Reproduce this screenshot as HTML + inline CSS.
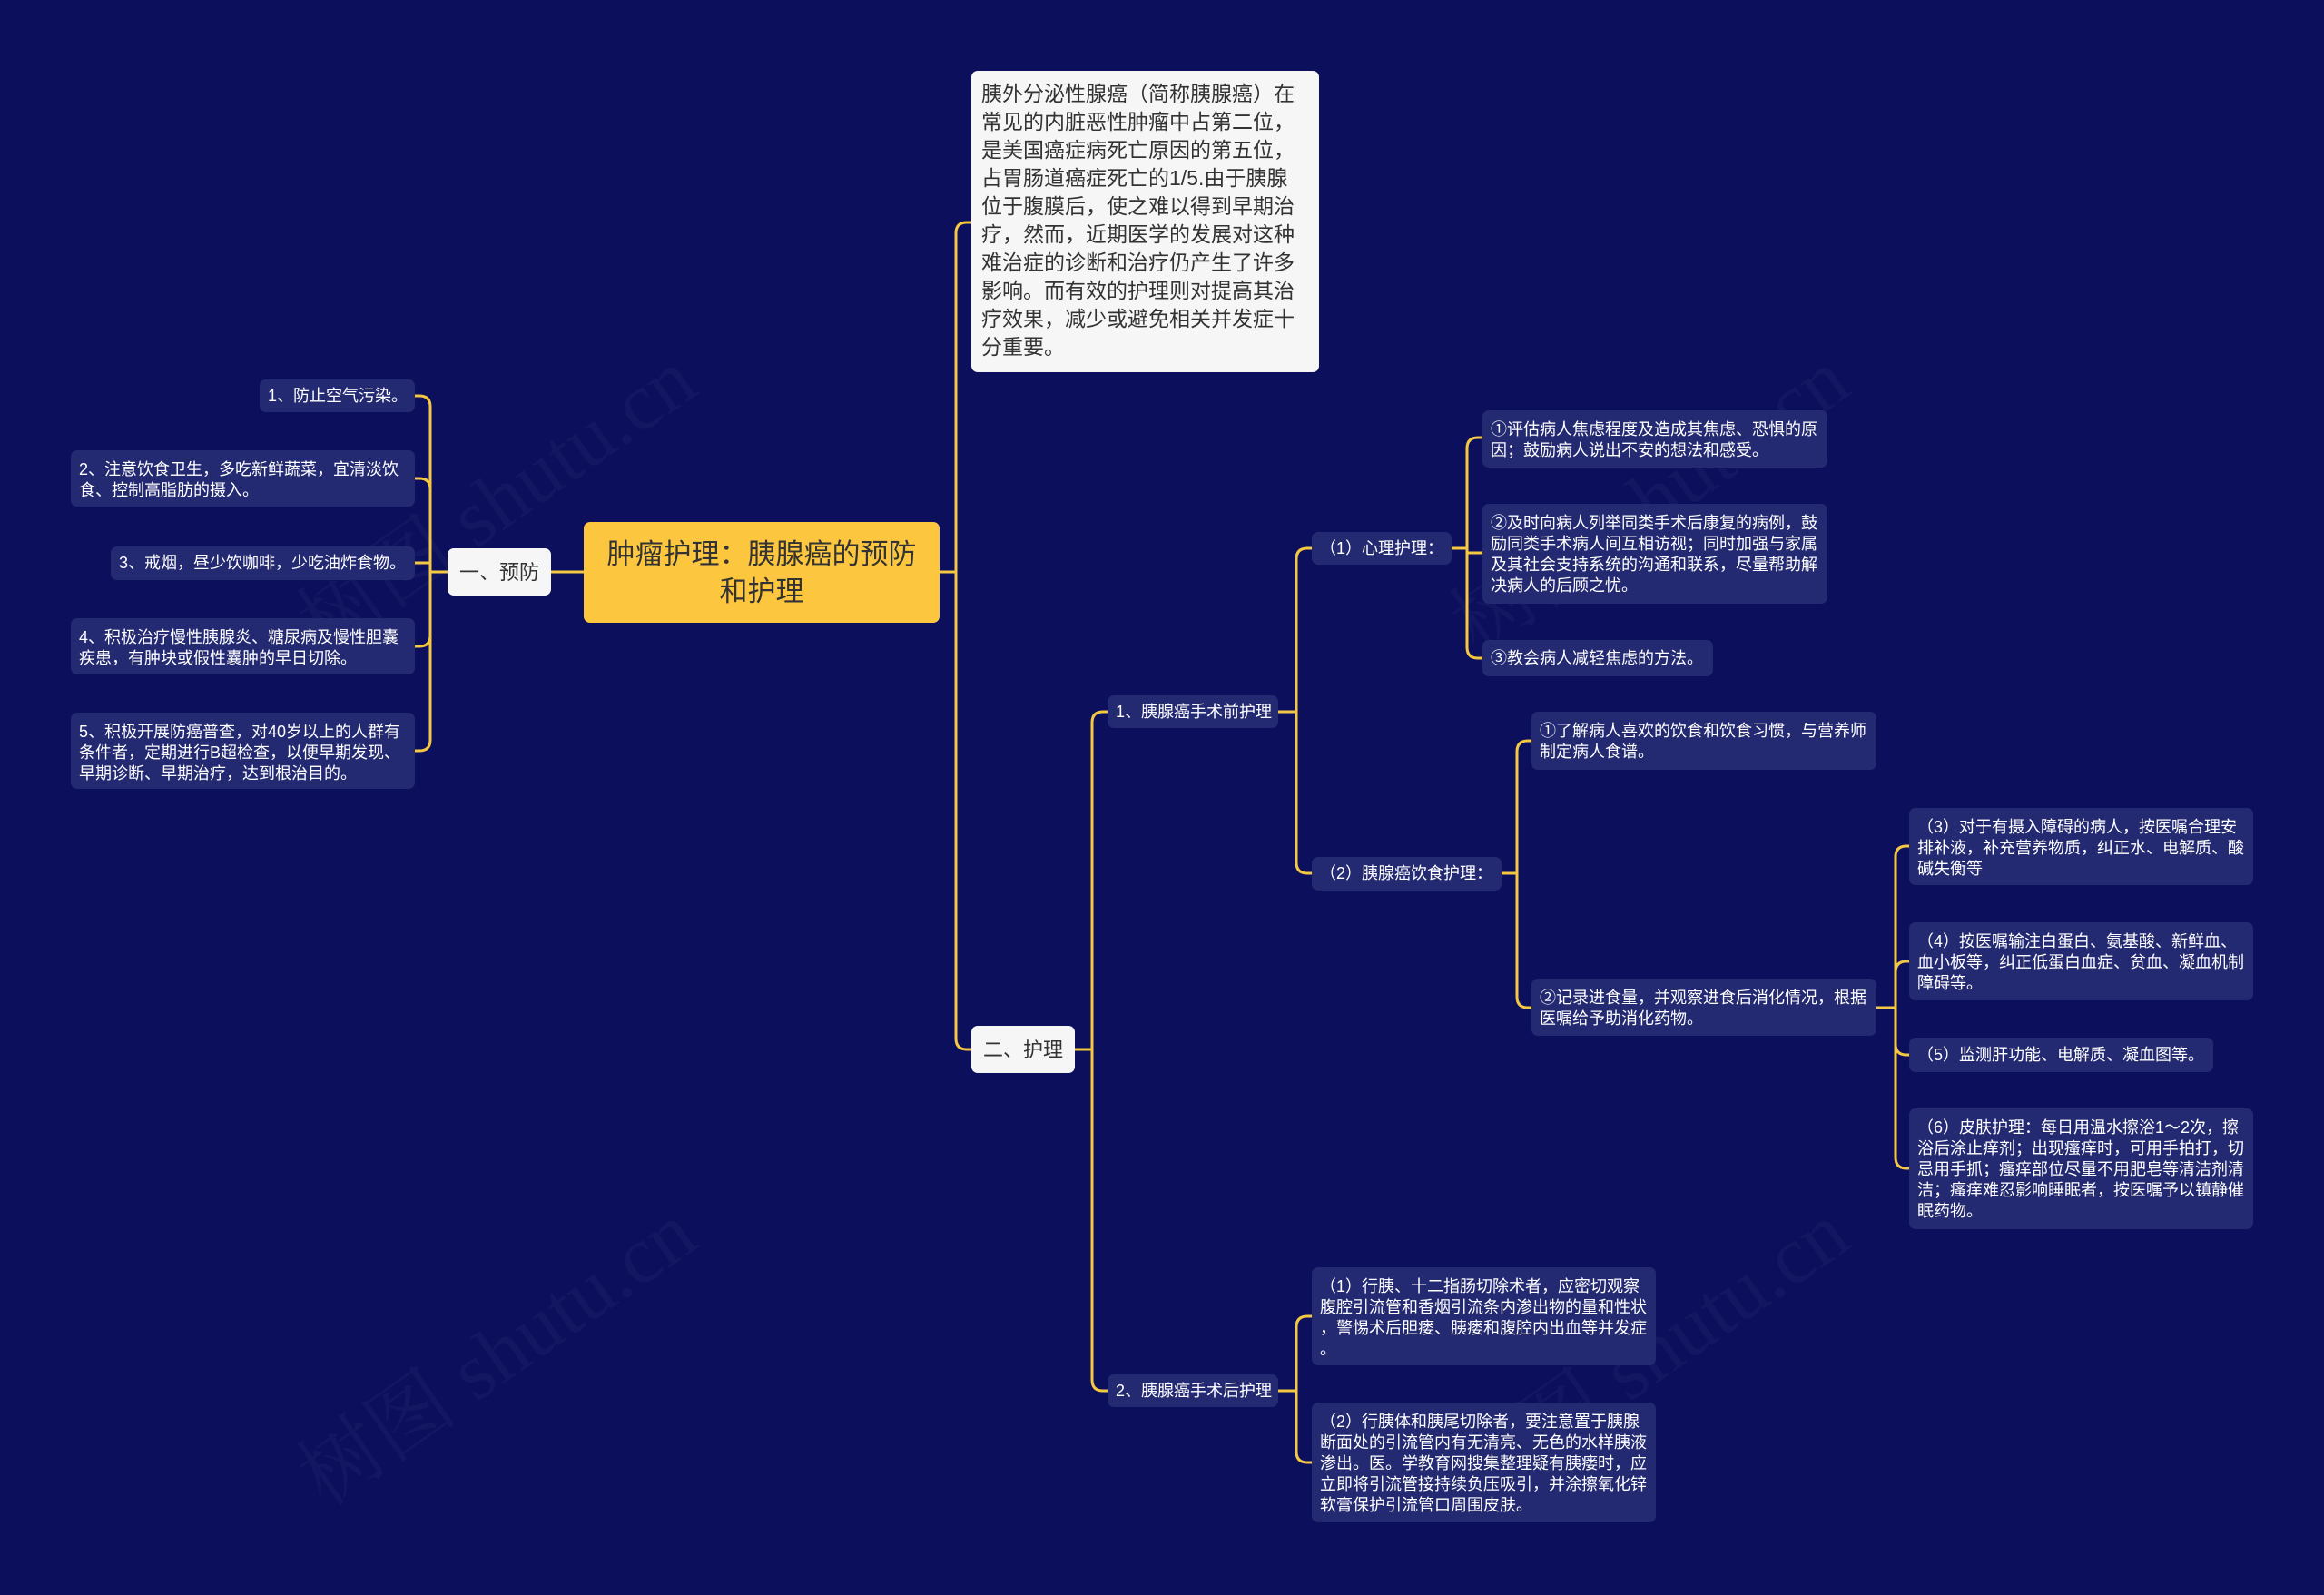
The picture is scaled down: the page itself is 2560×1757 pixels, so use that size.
<!DOCTYPE html>
<html><head><meta charset="utf-8"><style>
html,body{margin:0;padding:0}
body{width:2560px;height:1757px;background:#0b0f5c;position:relative;overflow:hidden;font-family:"Liberation Sans","Noto Sans CJK SC",sans-serif}
.n{position:absolute;box-sizing:border-box;background:#232a72;color:#fff;border-radius:7px;font-size:18px;line-height:23px;padding:10px 9px 6px;white-space:nowrap}
.c{display:flex;align-items:center;padding:0 9px}
svg{position:absolute;left:0;top:0}
.wm{position:absolute;color:rgba(255,255,255,0.035);font-size:90px;font-family:"Liberation Serif","Noto Serif CJK SC",serif;transform:rotate(-35deg);white-space:nowrap}
</style></head><body>
<div class="wm" style="left:290px;top:480px">树图 shutu.cn</div>
<div class="wm" style="left:290px;top:1420px">树图 shutu.cn</div>
<div class="wm" style="left:1560px;top:480px">树图 shutu.cn</div>
<div class="wm" style="left:1560px;top:1420px">树图 shutu.cn</div>
<svg width="2560" height="1757" id="s"></svg>

<div class="n c" style="left:643px;top:575px;width:392px;height:111px;background:#fdc63f;color:#333;font-size:31px;line-height:41px;justify-content:center;text-align:center;white-space:normal;padding:0 20px">肿瘤护理：胰腺癌的预防和护理</div>
<div class="n c" style="left:493px;top:604px;width:114px;height:52px;background:#f6f6f6;color:#333;font-size:22px;justify-content:center">一、预防</div>
<div class="n c" style="left:1070px;top:1130px;width:114px;height:52px;background:#f6f6f6;color:#333;font-size:22px;justify-content:center">二、护理</div>
<div class="n" style="left:1070px;top:78px;width:383px;height:332px;background:#f6f6f6;color:#333;font-size:23px;line-height:31px;padding:10px 11px">胰外分泌性腺癌（简称胰腺癌）在<br>常见的内脏恶性肿瘤中占第二位，<br>是美国癌症病死亡原因的第五位，<br>占胃肠道癌症死亡的1/5.由于胰腺<br>位于腹膜后，使之难以得到早期治<br>疗，然而，近期医学的发展对这种<br>难治症的诊断和治疗仍产生了许多<br>影响。而有效的护理则对提高其治<br>疗效果，减少或避免相关并发症十<br>分重要。</div>

<div class="n c" style="left:286px;top:418px;width:171px;height:36px">1、防止空气污染。</div>
<div class="n" style="left:78px;top:496px;width:379px;height:62px">2、注意饮食卫生，多吃新鲜蔬菜，宜清淡饮<br>食、控制高脂肪的摄入。</div>
<div class="n c" style="left:122px;top:602px;width:335px;height:37px">3、戒烟，昼少饮咖啡，少吃油炸食物。</div>
<div class="n" style="left:78px;top:681px;width:379px;height:62px">4、积极治疗慢性胰腺炎、糖尿病及慢性胆囊<br>疾患，有肿块或假性囊肿的早日切除。</div>
<div class="n" style="left:78px;top:785px;width:379px;height:84px">5、积极开展防癌普查，对40岁以上的人群有<br>条件者，定期进行B超检查，以便早期发现、<br>早期诊断、早期治疗，达到根治目的。</div>

<div class="n c" style="left:1220px;top:766px;width:188px;height:36px">1、胰腺癌手术前护理</div>
<div class="n c" style="left:1220px;top:1514px;width:188px;height:36px">2、胰腺癌手术后护理</div>
<div class="n c" style="left:1445px;top:586px;width:154px;height:36px">（1）心理护理：</div>
<div class="n c" style="left:1445px;top:944px;width:209px;height:37px">（2）胰腺癌饮食护理：</div>

<div class="n" style="left:1633px;top:452px;width:380px;height:63px">①评估病人焦虑程度及造成其焦虑、恐惧的原<br>因；鼓励病人说出不安的想法和感受。</div>
<div class="n" style="left:1633px;top:555px;width:380px;height:110px">②及时向病人列举同类手术后康复的病例，鼓<br>励同类手术病人间互相访视；同时加强与家属<br>及其社会支持系统的沟通和联系，尽量帮助解<br>决病人的后顾之忧。</div>
<div class="n c" style="left:1633px;top:705px;width:254px;height:40px">③教会病人减轻焦虑的方法。</div>

<div class="n" style="left:1687px;top:784px;width:380px;height:64px">①了解病人喜欢的饮食和饮食习惯，与营养师<br>制定病人食谱。</div>
<div class="n" style="left:1687px;top:1078px;width:380px;height:63px">②记录进食量，并观察进食后消化情况，根据<br>医嘱给予助消化药物。</div>

<div class="n" style="left:2103px;top:890px;width:379px;height:85px">（3）对于有摄入障碍的病人，按医嘱合理安<br>排补液，补充营养物质，纠正水、电解质、酸<br>碱失衡等</div>
<div class="n" style="left:2103px;top:1016px;width:379px;height:86px">（4）按医嘱输注白蛋白、氨基酸、新鲜血、<br>血小板等，纠正低蛋白血症、贫血、凝血机制<br>障碍等。</div>
<div class="n c" style="left:2103px;top:1143px;width:335px;height:38px">（5）监测肝功能、电解质、凝血图等。</div>
<div class="n" style="left:2103px;top:1221px;width:379px;height:133px">（6）皮肤护理：每日用温水擦浴1～2次，擦<br>浴后涂止痒剂；出现瘙痒时，可用手拍打，切<br>忌用手抓；瘙痒部位尽量不用肥皂等清洁剂清<br>洁；瘙痒难忍影响睡眠者，按医嘱予以镇静催<br>眠药物。</div>

<div class="n" style="left:1445px;top:1396px;width:379px;height:108px">（1）行胰、十二指肠切除术者，应密切观察<br>腹腔引流管和香烟引流条内渗出物的量和性状<br>，警惕术后胆瘘、胰瘘和腹腔内出血等并发症<br>。</div>
<div class="n" style="left:1445px;top:1545px;width:379px;height:132px">（2）行胰体和胰尾切除者，要注意置于胰腺<br>断面处的引流管内有无清亮、无色的水样胰液<br>渗出。医。学教育网搜集整理疑有胰瘘时，应<br>立即将引流管接持续负压吸引，并涂擦氧化锌<br>软膏保护引流管口周围皮肤。</div>

<script>
var d='';
function br(px,py,vx,cs){
  d+='M'+px+' '+py+'H'+vx;
  var dir=cs[0][0]>vx?1:-1, r=12;
  cs.forEach(function(c){
    var cx=c[0],cy=c[1];
    if(Math.abs(cy-py)<r){d+='M'+vx+' '+py+'V'+cy+'H'+cx;return;}
    var s=cy>py?1:-1;
    d+='M'+vx+' '+py+'V'+(cy-s*r)+'Q'+vx+' '+cy+' '+(vx+dir*r)+' '+cy+'H'+cx;
  });
}
br(1035,630,1053,[[1070,245],[1070,1156]]);
d+='M643 630H607';
br(493,630,474,[[457,436],[457,527],[457,620],[457,712],[457,827]]);
br(1184,1156,1203,[[1220,784],[1220,1532]]);
br(1408,784,1428,[[1445,604],[1445,962]]);
br(1599,604,1616,[[1633,482],[1633,609],[1633,725]]);
br(1654,962,1671,[[1687,816],[1687,1110]]);
br(2067,1110,2088,[[2103,932],[2103,1059],[2103,1162],[2103,1287]]);
br(1408,1532,1428,[[1445,1450],[1445,1611]]);
document.getElementById('s').innerHTML='<path d="'+d+'" fill="none" stroke="#f5c842" stroke-width="3" stroke-linecap="round"/>';
</script>
</body></html>
